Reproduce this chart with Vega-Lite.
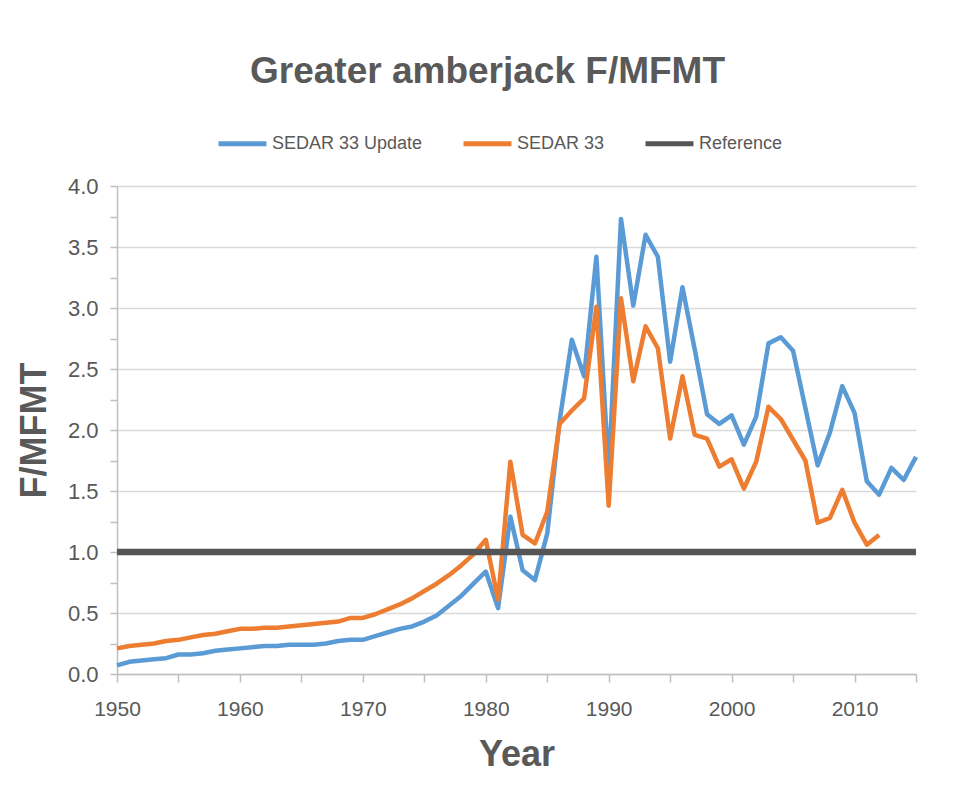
{
  "$schema": "https://vega.github.io/schema/vega-lite/v6.json",
  "autosize": {"type": "none"},
  "width": 799,
  "height": 488,
  "padding": {"left": 117, "top": 186, "right": 39, "bottom": 118},
  "background": "white",
  "title": {
    "text": "Greater amberjack F/MFMT",
    "font": "Liberation Sans",
    "fontSize": 37,
    "fontWeight": "bold",
    "color": "#595959",
    "anchor": "middle",
    "dx": -29,
    "baseline": "alphabetic",
    "offset": -3
  },
  "config": {
    "view": {"stroke": null},
    "axis": {"labelFont": "Liberation Sans", "titleFont": "Liberation Sans", "labelColor": "#595959", "titleColor": "#595959"}
  },
  "data": {
    "values": [
      {"year": 1950, "SEDAR 33 Update": 0.07, "SEDAR 33": 0.21, "Reference": 1},
      {"year": 1951, "SEDAR 33 Update": 0.10, "SEDAR 33": 0.23, "Reference": 1},
      {"year": 1952, "SEDAR 33 Update": 0.11, "SEDAR 33": 0.24, "Reference": 1},
      {"year": 1953, "SEDAR 33 Update": 0.12, "SEDAR 33": 0.25, "Reference": 1},
      {"year": 1954, "SEDAR 33 Update": 0.13, "SEDAR 33": 0.27, "Reference": 1},
      {"year": 1955, "SEDAR 33 Update": 0.16, "SEDAR 33": 0.28, "Reference": 1},
      {"year": 1956, "SEDAR 33 Update": 0.16, "SEDAR 33": 0.30, "Reference": 1},
      {"year": 1957, "SEDAR 33 Update": 0.17, "SEDAR 33": 0.32, "Reference": 1},
      {"year": 1958, "SEDAR 33 Update": 0.19, "SEDAR 33": 0.33, "Reference": 1},
      {"year": 1959, "SEDAR 33 Update": 0.20, "SEDAR 33": 0.35, "Reference": 1},
      {"year": 1960, "SEDAR 33 Update": 0.21, "SEDAR 33": 0.37, "Reference": 1},
      {"year": 1961, "SEDAR 33 Update": 0.22, "SEDAR 33": 0.37, "Reference": 1},
      {"year": 1962, "SEDAR 33 Update": 0.23, "SEDAR 33": 0.38, "Reference": 1},
      {"year": 1963, "SEDAR 33 Update": 0.23, "SEDAR 33": 0.38, "Reference": 1},
      {"year": 1964, "SEDAR 33 Update": 0.24, "SEDAR 33": 0.39, "Reference": 1},
      {"year": 1965, "SEDAR 33 Update": 0.24, "SEDAR 33": 0.40, "Reference": 1},
      {"year": 1966, "SEDAR 33 Update": 0.24, "SEDAR 33": 0.41, "Reference": 1},
      {"year": 1967, "SEDAR 33 Update": 0.25, "SEDAR 33": 0.42, "Reference": 1},
      {"year": 1968, "SEDAR 33 Update": 0.27, "SEDAR 33": 0.43, "Reference": 1},
      {"year": 1969, "SEDAR 33 Update": 0.28, "SEDAR 33": 0.46, "Reference": 1},
      {"year": 1970, "SEDAR 33 Update": 0.28, "SEDAR 33": 0.46, "Reference": 1},
      {"year": 1971, "SEDAR 33 Update": 0.31, "SEDAR 33": 0.49, "Reference": 1},
      {"year": 1972, "SEDAR 33 Update": 0.34, "SEDAR 33": 0.53, "Reference": 1},
      {"year": 1973, "SEDAR 33 Update": 0.37, "SEDAR 33": 0.57, "Reference": 1},
      {"year": 1974, "SEDAR 33 Update": 0.39, "SEDAR 33": 0.62, "Reference": 1},
      {"year": 1975, "SEDAR 33 Update": 0.43, "SEDAR 33": 0.68, "Reference": 1},
      {"year": 1976, "SEDAR 33 Update": 0.48, "SEDAR 33": 0.74, "Reference": 1},
      {"year": 1977, "SEDAR 33 Update": 0.56, "SEDAR 33": 0.81, "Reference": 1},
      {"year": 1978, "SEDAR 33 Update": 0.64, "SEDAR 33": 0.89, "Reference": 1},
      {"year": 1979, "SEDAR 33 Update": 0.74, "SEDAR 33": 0.98, "Reference": 1},
      {"year": 1980, "SEDAR 33 Update": 0.84, "SEDAR 33": 1.10, "Reference": 1},
      {"year": 1981, "SEDAR 33 Update": 0.54, "SEDAR 33": 0.61, "Reference": 1},
      {"year": 1982, "SEDAR 33 Update": 1.29, "SEDAR 33": 1.74, "Reference": 1},
      {"year": 1983, "SEDAR 33 Update": 0.85, "SEDAR 33": 1.14, "Reference": 1},
      {"year": 1984, "SEDAR 33 Update": 0.77, "SEDAR 33": 1.07, "Reference": 1},
      {"year": 1985, "SEDAR 33 Update": 1.15, "SEDAR 33": 1.33, "Reference": 1},
      {"year": 1986, "SEDAR 33 Update": 2.07, "SEDAR 33": 2.05, "Reference": 1},
      {"year": 1987, "SEDAR 33 Update": 2.74, "SEDAR 33": 2.16, "Reference": 1},
      {"year": 1988, "SEDAR 33 Update": 2.44, "SEDAR 33": 2.26, "Reference": 1},
      {"year": 1989, "SEDAR 33 Update": 3.42, "SEDAR 33": 3.01, "Reference": 1},
      {"year": 1990, "SEDAR 33 Update": 1.65, "SEDAR 33": 1.38, "Reference": 1},
      {"year": 1991, "SEDAR 33 Update": 3.73, "SEDAR 33": 3.08, "Reference": 1},
      {"year": 1992, "SEDAR 33 Update": 3.02, "SEDAR 33": 2.40, "Reference": 1},
      {"year": 1993, "SEDAR 33 Update": 3.60, "SEDAR 33": 2.85, "Reference": 1},
      {"year": 1994, "SEDAR 33 Update": 3.42, "SEDAR 33": 2.67, "Reference": 1},
      {"year": 1995, "SEDAR 33 Update": 2.56, "SEDAR 33": 1.93, "Reference": 1},
      {"year": 1996, "SEDAR 33 Update": 3.17, "SEDAR 33": 2.44, "Reference": 1},
      {"year": 1997, "SEDAR 33 Update": 2.66, "SEDAR 33": 1.96, "Reference": 1},
      {"year": 1998, "SEDAR 33 Update": 2.13, "SEDAR 33": 1.93, "Reference": 1},
      {"year": 1999, "SEDAR 33 Update": 2.05, "SEDAR 33": 1.70, "Reference": 1},
      {"year": 2000, "SEDAR 33 Update": 2.12, "SEDAR 33": 1.76, "Reference": 1},
      {"year": 2001, "SEDAR 33 Update": 1.88, "SEDAR 33": 1.52, "Reference": 1},
      {"year": 2002, "SEDAR 33 Update": 2.11, "SEDAR 33": 1.74, "Reference": 1},
      {"year": 2003, "SEDAR 33 Update": 2.71, "SEDAR 33": 2.19, "Reference": 1},
      {"year": 2004, "SEDAR 33 Update": 2.76, "SEDAR 33": 2.09, "Reference": 1},
      {"year": 2005, "SEDAR 33 Update": 2.65, "SEDAR 33": 1.92, "Reference": 1},
      {"year": 2006, "SEDAR 33 Update": 2.18, "SEDAR 33": 1.75, "Reference": 1},
      {"year": 2007, "SEDAR 33 Update": 1.71, "SEDAR 33": 1.24, "Reference": 1},
      {"year": 2008, "SEDAR 33 Update": 1.98, "SEDAR 33": 1.28, "Reference": 1},
      {"year": 2009, "SEDAR 33 Update": 2.36, "SEDAR 33": 1.51, "Reference": 1},
      {"year": 2010, "SEDAR 33 Update": 2.14, "SEDAR 33": 1.24, "Reference": 1},
      {"year": 2011, "SEDAR 33 Update": 1.58, "SEDAR 33": 1.06, "Reference": 1},
      {"year": 2012, "SEDAR 33 Update": 1.47, "SEDAR 33": 1.14, "Reference": 1},
      {"year": 2013, "SEDAR 33 Update": 1.69, "Reference": 1},
      {"year": 2014, "SEDAR 33 Update": 1.59, "Reference": 1},
      {"year": 2015, "SEDAR 33 Update": 1.78, "Reference": 1}
    ]
  },
  "transform": [
    {"fold": ["SEDAR 33 Update", "SEDAR 33", "Reference"], "as": ["series", "value"]},
    {"filter": "isValid(datum.value)"}
  ],
  "encoding": {
    "x": {
      "field": "year",
      "type": "quantitative",
      "scale": {"domain": [1950, 2015], "nice": false, "zero": false},
      "axis": {
        "title": "Year",
        "titleFontSize": 36,
        "titleFontWeight": "bold",
        "titlePadding": 18,
        "values": [1950, 1955, 1960, 1965, 1970, 1975, 1980, 1985, 1990, 1995, 2000, 2005, 2010, 2015],
        "labelExpr": "datum.value % 10 === 0 ? datum.value : ''",
        "labelFontSize": 21,
        "labelPadding": 16,
        "labelFlush": false,
        "grid": false,
        "domainColor": "#bfbfbf",
        "domainWidth": 1.5,
        "tickColor": "#bfbfbf",
        "tickSize": 8,
        "tickWidth": 1.5
      }
    },
    "y": {
      "field": "value",
      "type": "quantitative",
      "scale": {"domain": [0, 4], "nice": false},
      "axis": {
        "title": "F/MFMT",
        "titleFontSize": 36,
        "titleFontWeight": "bold",
        "titlePadding": 14,
        "values": [0, 0.25, 0.5, 0.75, 1, 1.25, 1.5, 1.75, 2, 2.25, 2.5, 2.75, 3, 3.25, 3.5, 3.75, 4],
        "labelExpr": "datum.value % 0.5 === 0 ? format(datum.value, '.1f') : ''",
        "labelFontSize": 22,
        "labelPadding": 12,
        "labelFlush": false,
        "grid": true,
        "gridColor": "#d9d9d9",
        "gridWidth": 1.5,
        "gridOpacity": {"condition": {"test": "datum.value % 0.5 !== 0", "value": 0}, "value": 1},
        "domainColor": "#bfbfbf",
        "domainWidth": 1.5,
        "tickColor": "#bfbfbf",
        "tickSize": 7,
        "tickWidth": 1.5
      }
    },
    "color": {
      "field": "series",
      "type": "nominal",
      "scale": {"domain": ["SEDAR 33 Update", "SEDAR 33", "Reference"], "range": ["#5B9BD5", "#ED7D31", "#555555"]},
      "legend": {
        "title": null,
        "orient": "none",
        "direction": "horizontal",
        "legendX": 99,
        "legendY": -69,
        "symbolType": "stroke",
        "symbolSize": 2300,
        "symbolStrokeWidth": 5,
        "labelFont": "Liberation Sans",
        "labelFontSize": 18,
        "labelColor": "#595959",
        "labelOffset": 3,
        "columnPadding": 30,
        "labelLimit": 300
      }
    }
  },
  "layer": [
    {
      "transform": [{"filter": "datum.series !== 'Reference'"}],
      "mark": {"type": "line", "strokeWidth": 4.5, "strokeJoin": "round"}
    },
    {
      "transform": [{"filter": "datum.series === 'Reference'"}],
      "mark": {"type": "line", "strokeWidth": 6.5, "strokeCap": "butt"}
    }
  ]
}
